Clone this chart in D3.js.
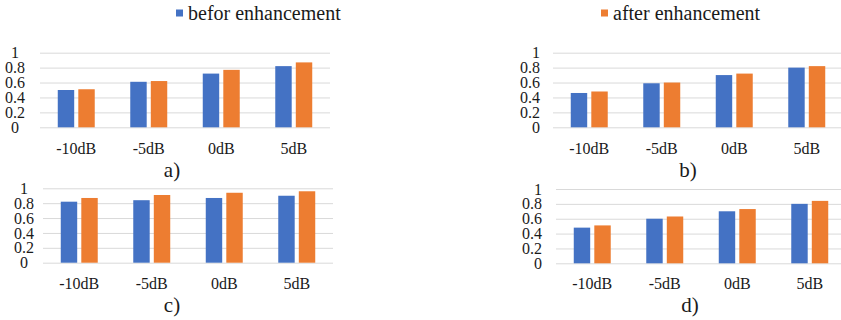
<!DOCTYPE html>
<html>
<head>
<meta charset="utf-8">
<script src="https://cdn.jsdelivr.net/npm/d3@7/dist/d3.min.js"></script>
</head>
<body style="margin:0;background:#fff">
<svg id="chart" width="841" height="320" style="display:block"></svg>
<script>
// Categories, series and tick values
const categories = ["-10dB", "-5dB", "0dB", "5dB"];
const seriesNames = ["befor enhancement", "after enhancement"];
const seriesColors = ["#4472C4", "#ED7D31"];
const yTicks = [0, 0.2, 0.4, 0.6, 0.8, 1];
const captions = ["a)", "b)", "c)", "d)"];

// Values per panel
const beforeA = [0.50, 0.61, 0.72, 0.82];
const afterA  = [0.51, 0.62, 0.77, 0.87];
const beforeB = [0.46, 0.59, 0.70, 0.80];
const afterB  = [0.48, 0.60, 0.72, 0.82];
const beforeC = [0.82, 0.84, 0.87, 0.90];
const afterC  = [0.87, 0.91, 0.94, 0.96];
const beforeD = [0.48, 0.60, 0.70, 0.80];
const afterD  = [0.51, 0.63, 0.73, 0.84];

const panelValues = [
  [beforeA, afterA],
  [beforeB, afterB],
  [beforeC, afterC],
  [beforeD, afterD]
];

const FONT = "Liberation Serif";
const INK = "#1a1a1a";
const GRID = "#d9d9d9";

// Panel geometry
const layouts = [
  { x0: 40,  yTop: 52.7,  yZero: 127.3, labX: 15,  anchor: "middle", capX: 172, capY: 170, xLabY: 148 },
  { x0: 553, yTop: 52.7,  yZero: 127.3, labX: 540, anchor: "end",    capX: 688, capY: 170, xLabY: 148 },
  { x0: 43,  yTop: 188.3, yZero: 262.7, labX: 24,  anchor: "middle", capX: 172, capY: 305, xLabY: 283 },
  { x0: 556, yTop: 189,   yZero: 263.3, labX: 542, anchor: "end",    capX: 690, capY: 305, xLabY: 283 }
];
const plotWidth = 290;

const svg = d3.select("#chart");

// Legend
const legendItems = [
  { x: 176, name: seriesNames[0], color: seriesColors[0] },
  { x: 601, name: seriesNames[1], color: seriesColors[1] }
];
const legend = svg.append("g");
legendItems.forEach(it => {
  legend.append("rect")
    .attr("x", it.x).attr("y", 9.5).attr("width", 7).attr("height", 7)
    .attr("fill", it.color);
  legend.append("text")
    .attr("x", it.x + 12).attr("y", 13)
    .attr("dominant-baseline", "central")
    .style("font-family", FONT).attr("font-size", 20)
    .attr("fill", INK)
    .text(it.name);
});

layouts.forEach((L, i) => {
  const g = svg.append("g");
  const x1 = L.x0 + plotWidth;

  const y = d3.scaleLinear().domain([0, 1]).range([L.yZero, L.yTop]);
  const x = d3.scaleBand().domain(categories).range([L.x0, x1])
    .paddingInner(0.49).paddingOuter(0.245);
  const xs = d3.scaleBand().domain(seriesNames).range([0, x.bandwidth()])
    .paddingInner(0.2);

  // Gridlines
  const grid = g.append("g")
    .attr("transform", `translate(${L.x0},0)`)
    .call(d3.axisLeft(y).tickValues(yTicks).tickSize(-plotWidth).tickFormat(""));
  grid.select(".domain").remove();
  grid.selectAll(".tick line").attr("stroke", GRID);

  // Y tick labels
  const yl = g.append("g")
    .attr("transform", `translate(${L.labX},0)`)
    .call(d3.axisLeft(y).tickValues(yTicks).tickSize(0).tickPadding(0).tickFormat(d3.format("")));
  yl.select(".domain").remove();
  yl.attr("font-family", FONT).attr("font-size", 16);
  yl.selectAll("text")
    .attr("text-anchor", L.anchor).attr("x", 0).attr("fill", INK)
    .style("font-family", FONT);

  // Bars
  const vals = panelValues[i];
  seriesNames.forEach((s, k) => {
    g.append("g").selectAll("rect")
      .data(categories.map((c, j) => ({ c, v: vals[k][j] })))
      .join("rect")
      .attr("x", d => x(d.c) + xs(s))
      .attr("y", d => y(d.v))
      .attr("width", xs.bandwidth())
      .attr("height", d => y(0) - y(d.v))
      .attr("fill", seriesColors[k]);
  });

  // Category labels
  const xl = g.append("g")
    .attr("transform", `translate(0,${L.xLabY})`)
    .call(d3.axisBottom(x).tickSize(0).tickPadding(0));
  xl.select(".domain").remove();
  xl.attr("font-family", FONT).attr("font-size", 16);
  xl.selectAll("text")
    .attr("dy", "0.35em").attr("y", 0).attr("fill", INK)
    .style("font-family", FONT);

  // Caption
  g.append("text")
    .attr("x", L.capX).attr("y", L.capY)
    .attr("text-anchor", "middle")
    .attr("dominant-baseline", "central")
    .style("font-family", FONT).attr("font-size", 21)
    .attr("fill", INK)
    .text(captions[i]);
});
</script>
</body>
</html>
